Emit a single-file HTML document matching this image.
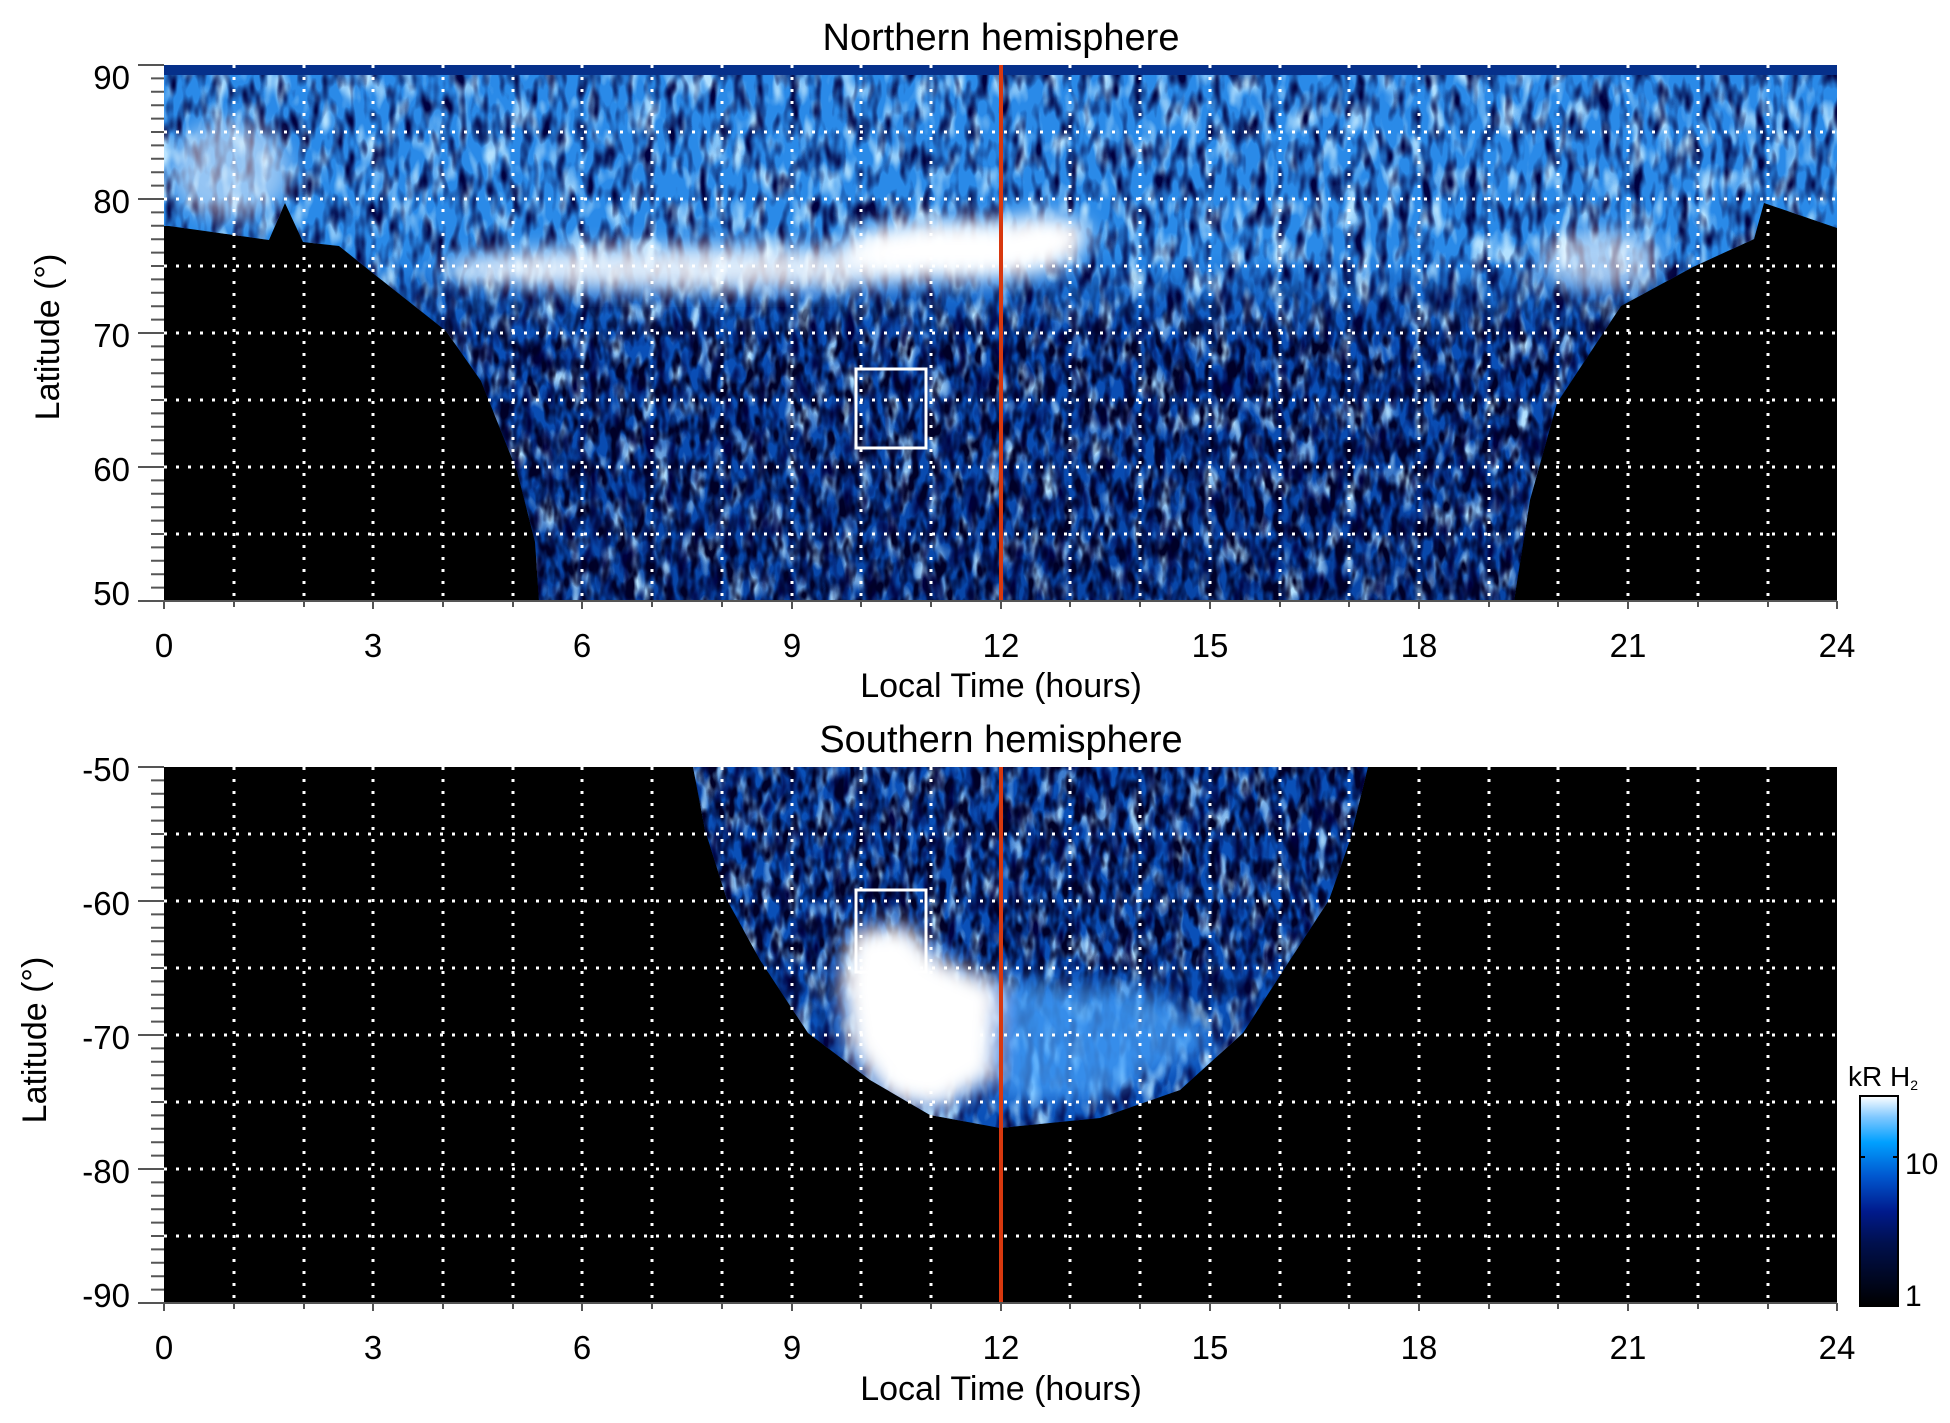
<!DOCTYPE html>
<html><head><meta charset="utf-8"><style>
html,body{margin:0;padding:0;background:#fff;}
svg{display:block;}
text{font-family:"Liberation Sans",Arial,sans-serif;fill:#000;}
</style></head><body>
<svg width="1950" height="1423" viewBox="0 0 1950 1423" xmlns="http://www.w3.org/2000/svg">
<defs>
<filter id="dk" x="0" y="0" width="100%" height="100%">
<feTurbulence type="fractalNoise" baseFrequency="0.09 0.035" numOctaves="2" seed="4"/>
<feColorMatrix type="matrix" values="0 0 0 0 0  0 0 0 0 0  0 0 0 0 0.05  3 0 0 0 -1.35"/>
</filter>
<filter id="dk2" x="0" y="0" width="100%" height="100%">
<feTurbulence type="fractalNoise" baseFrequency="0.11 0.05" numOctaves="2" seed="7"/>
<feColorMatrix type="matrix" values="0 0 0 0 0  0 0 0 0 0  0 0 0 0 0.02  3.5 0 0 0 -1.45"/>
</filter>
<filter id="lt" x="0" y="0" width="100%" height="100%">
<feTurbulence type="fractalNoise" baseFrequency="0.07 0.03" numOctaves="2" seed="11"/>
<feColorMatrix type="matrix" values="0 0 0 0 0.45  0 0 0 0 0.75  0 0 0 0 1  3 0 0 0 -1.45"/>
</filter>
<filter id="bl"><feGaussianBlur stdDeviation="10"/></filter>
<linearGradient id="gN" x1="0" y1="0" x2="0" y2="1">
<stop offset="0" stop-color="#2a8ae8"/>
<stop offset="0.35" stop-color="#2a8ae8"/>
<stop offset="0.5" stop-color="#0a50b8"/>
<stop offset="1" stop-color="#0846a8"/>
</linearGradient>
<linearGradient id="gDw" x1="0" y1="0" x2="0" y2="1">
<stop offset="0" stop-color="#000"/>
<stop offset="0.38" stop-color="#000"/>
<stop offset="0.52" stop-color="#fff"/>
<stop offset="1" stop-color="#fff"/>
</linearGradient>
<linearGradient id="gSw" x1="0" y1="0" x2="0" y2="1">
<stop offset="0" stop-color="#fff"/>
<stop offset="0.5" stop-color="#fff"/>
<stop offset="0.75" stop-color="#000"/>
<stop offset="1" stop-color="#000"/>
</linearGradient>
<mask id="mD"><rect x="164" y="65" width="1673" height="536" fill="url(#gDw)"/></mask>
<mask id="mS"><rect x="600" y="767" width="800" height="370" fill="url(#gSw)"/></mask>
<clipPath id="cN"><path d="M164,65 L1837,65 L1837,228 L1764,203 L1754,239 L1693,267 L1621,306 L1557,403 L1530,500 L1514,601 L539,601 L535,542 L517,471 L481,381 L446,331 L374,274 L339,246 L303,242 L285,203 L269,240 L169,226 L164,226 Z"/></clipPath>
<clipPath id="cS"><path d="M693,767 L1368,767 L1350,840 L1329,900 L1290,960 L1243,1033 L1180,1090 L1100,1118 L1000,1128 L930,1115 L870,1080 L808,1033 L760,960 L727,900 L705,830 Z"/></clipPath>
<linearGradient id="cb" x1="0" y1="1" x2="0" y2="0">
<stop offset="0" stop-color="#000000"/>
<stop offset="0.3" stop-color="#00104e"/>
<stop offset="0.45" stop-color="#001a8c"/>
<stop offset="0.62" stop-color="#0058d0"/>
<stop offset="0.78" stop-color="#00a0ff"/>
<stop offset="0.9" stop-color="#80c8ff"/>
<stop offset="1" stop-color="#ffffff"/>
</linearGradient>
</defs>

<rect x="164" y="65" width="1673" height="536" fill="#000"/>
<g clip-path="url(#cN)">
<rect x="164" y="65" width="1673" height="536" fill="url(#gN)"/>
<rect x="164" y="65" width="1673" height="536" filter="url(#lt)"/>
<rect x="164" y="65" width="1673" height="536" filter="url(#dk)"/>
<g mask="url(#mD)"><rect x="164" y="65" width="1673" height="536" filter="url(#dk2)"/></g>
<rect x="164" y="65" width="1673" height="10" fill="#06308a"/>
<g filter="url(#bl)" fill="#fff">
<ellipse cx="700" cy="268" rx="260" ry="22" opacity="0.85"/>
<ellipse cx="960" cy="250" rx="120" ry="30"/>
<ellipse cx="1040" cy="235" rx="50" ry="20"/>
<ellipse cx="1600" cy="260" rx="60" ry="30" opacity="0.6"/>
<ellipse cx="230" cy="170" rx="60" ry="50" opacity="0.5"/>
</g>
</g>
<rect x="856" y="369" width="70" height="79" fill="none" stroke="#fff" stroke-width="3"/>

<rect x="164" y="767" width="1673" height="536" fill="#000"/>
<g clip-path="url(#cS)">
<rect x="600" y="767" width="800" height="370" fill="#0a50b8"/>
<rect x="600" y="767" width="800" height="370" filter="url(#lt)"/>
<rect x="600" y="767" width="800" height="370" filter="url(#dk)"/>
<g mask="url(#mS)"><rect x="600" y="767" width="800" height="370" filter="url(#dk2)"/></g>
<g filter="url(#bl)">
<path d="M851,930 L908,925 L937,957 L999,985 L994,1077 L937,1110 L889,1100 L851,1050 L841,983 Z" fill="#fff"/>
<path d="M1000,980 L1150,990 L1220,1040 L1100,1100 L1000,1100 Z" fill="#4aa6ff" opacity="0.7"/>
</g>
</g>
<rect x="856" y="890" width="70" height="82" fill="none" stroke="#fff" stroke-width="3"/>

<g stroke="#fff" stroke-width="3" stroke-dasharray="3 9" fill="none">
<path d="M234,65V601M304,65V601M373,65V601M443,65V601M513,65V601M582,65V601M652,65V601M722,65V601M792,65V601M861,65V601M931,65V601M1070,65V601M1140,65V601M1210,65V601M1280,65V601M1349,65V601M1419,65V601M1489,65V601M1558,65V601M1628,65V601M1698,65V601M1768,65V601"/>
<path d="M164,132H1837M164,199H1837M164,266H1837M164,333H1837M164,400H1837M164,467H1837M164,534H1837"/>
<path d="M234,767V1303M304,767V1303M373,767V1303M443,767V1303M513,767V1303M582,767V1303M652,767V1303M722,767V1303M792,767V1303M861,767V1303M931,767V1303M1070,767V1303M1140,767V1303M1210,767V1303M1280,767V1303M1349,767V1303M1419,767V1303M1489,767V1303M1558,767V1303M1628,767V1303M1698,767V1303M1768,767V1303"/>
<path d="M164,834H1837M164,901H1837M164,968H1837M164,1035H1837M164,1102H1837M164,1169H1837M164,1236H1837"/>
</g>

<line x1="1001" y1="65" x2="1001" y2="601" stroke="#d8380e" stroke-width="4"/>
<line x1="1001" y1="767" x2="1001" y2="1303" stroke="#d8380e" stroke-width="4"/>

<g stroke="#555" stroke-width="2" fill="none">
<path d="M164,601H1837M164,1303H1837"/>
<path d="M164,601v8M234,601v6M304,601v6M373,601v8M443,601v6M513,601v6M582,601v8M652,601v6M722,601v6M792,601v8M861,601v6M931,601v6M1001,601v8M1070,601v6M1140,601v6M1210,601v8M1280,601v6M1349,601v6M1419,601v8M1489,601v6M1558,601v6M1628,601v8M1698,601v6M1768,601v6M1837,601v8"/>
<path d="M164,1303v8M234,1303v6M304,1303v6M373,1303v8M443,1303v6M513,1303v6M582,1303v8M652,1303v6M722,1303v6M792,1303v8M861,1303v6M931,1303v6M1001,1303v8M1070,1303v6M1140,1303v6M1210,1303v8M1280,1303v6M1349,1303v6M1419,1303v8M1489,1303v6M1558,1303v6M1628,1303v8M1698,1303v6M1768,1303v6M1837,1303v8"/>
<path d="M138,65H164M138,199H164M138,333H164M138,467H164M138,601H164"/>
<path d="M151,78.4H164M151,91.8H164M151,105.2H164M151,118.6H164M151,132H164M151,145.4H164M151,158.8H164M151,172.2H164M151,185.6H164M151,212.4H164M151,225.8H164M151,239.2H164M151,252.6H164M151,266H164M151,279.4H164M151,292.8H164M151,306.2H164M151,319.6H164M151,346.4H164M151,359.8H164M151,373.2H164M151,386.6H164M151,400H164M151,413.4H164M151,426.8H164M151,440.2H164M151,453.6H164M151,480.4H164M151,493.8H164M151,507.2H164M151,520.6H164M151,534H164M151,547.4H164M151,560.8H164M151,574.2H164M151,587.6H164"/>
<path d="M138,767H164M138,901H164M138,1035H164M138,1169H164M138,1303H164"/>
<path d="M151,780.4H164M151,793.8H164M151,807.2H164M151,820.6H164M151,834H164M151,847.4H164M151,860.8H164M151,874.2H164M151,887.6H164M151,914.4H164M151,927.8H164M151,941.2H164M151,954.6H164M151,968H164M151,981.4H164M151,994.8H164M151,1008.2H164M151,1021.6H164M151,1048.4H164M151,1061.8H164M151,1075.2H164M151,1088.6H164M151,1102H164M151,1115.4H164M151,1128.8H164M151,1142.2H164M151,1155.6H164M151,1182.4H164M151,1195.8H164M151,1209.2H164M151,1222.6H164M151,1236H164M151,1249.4H164M151,1262.8H164M151,1276.2H164M151,1289.6H164"/>
</g>

<g font-size="33" text-anchor="middle">
<text x="164" y="657">0</text><text x="373" y="657">3</text><text x="582" y="657">6</text><text x="792" y="657">9</text><text x="1001" y="657">12</text><text x="1210" y="657">15</text><text x="1419" y="657">18</text><text x="1628" y="657">21</text><text x="1837" y="657">24</text>
<text x="164" y="1359">0</text><text x="373" y="1359">3</text><text x="582" y="1359">6</text><text x="792" y="1359">9</text><text x="1001" y="1359">12</text><text x="1210" y="1359">15</text><text x="1419" y="1359">18</text><text x="1628" y="1359">21</text><text x="1837" y="1359">24</text>
</g>
<g font-size="33" text-anchor="end">
<text x="130" y="89">90</text><text x="130" y="213">80</text><text x="130" y="347">70</text><text x="130" y="481">60</text><text x="130" y="605">50</text>
<text x="130" y="781">-50</text><text x="130" y="915">-60</text><text x="130" y="1049">-70</text><text x="130" y="1183">-80</text><text x="130" y="1307">-90</text>
</g>
<g font-size="34" text-anchor="middle">
<text x="1001" y="697">Local Time (hours)</text>
<text x="1001" y="1400">Local Time (hours)</text>
<text x="1001" y="50" font-size="38">Northern hemisphere</text>
<text x="1001" y="752" font-size="38">Southern hemisphere</text>
<text transform="translate(59,337) rotate(-90)">Latitude (°)</text>
<text transform="translate(46,1040) rotate(-90)">Latitude (°)</text>
</g>

<rect x="1860" y="1096" width="38" height="210" fill="url(#cb)" stroke="#000" stroke-width="2"/>
<g stroke="#000" stroke-width="2"><path d="M1860,1157h5M1893,1157h5"/></g>
<text x="1905" y="1174" font-size="30">10</text>
<text x="1905" y="1306" font-size="30">1</text>
<text x="1848" y="1086" font-size="28">kR H<tspan font-size="14" dy="4">2</tspan></text>
</svg>
</body></html>
